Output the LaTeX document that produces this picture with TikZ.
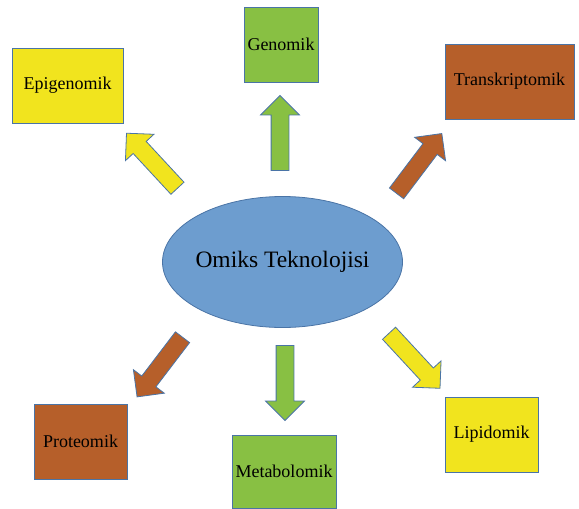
\documentclass[tikz,border=0pt]{standalone}
\usepackage{fontspec}
\setmainfont{Liberation Serif}
\usetikzlibrary{shapes.geometric,shapes.arrows}
\definecolor{OmYellow}{HTML}{F1E41E}
\definecolor{OmGreen}{HTML}{88C043}
\definecolor{OmBrown}{HTML}{B65F2A}
\definecolor{OmBlue}{HTML}{6D9DCF}
\definecolor{OmLine}{HTML}{4A74A6}

\begin{document}
\begin{tikzpicture}[x=1pt,y=-1pt]
  \tikzstyle{omik}=[draw=OmLine,line width=0.8pt,inner sep=0pt,
    minimum height=75pt,font=\fontsize{18}{21}\selectfont]
  \tikzstyle{blok}=[single arrow,draw=OmLine,line width=0.8pt,inner sep=8.5pt,
    minimum height=75pt,single arrow head extend=10.5pt]
  \useasboundingbox (0,0) rectangle (579,509);
  % centre
  \node[ellipse,draw=OmLine,line width=0.8pt,fill=OmBlue,inner sep=0pt,minimum width=240pt,
    minimum height=131pt,font=\fontsize{23.5}{28}\selectfont] (omx) at (282.5,262)
    {\makebox[0pt]{Omiks Teknolojisi}};
  % boxes
  \node[omik,fill=OmGreen,minimum width=74pt] (gen) at (281,44.5) {Genomik};
  \node[omik,fill=OmYellow,minimum width=111pt] (epi) at (67.5,85.5) {Epigenomik};
  \node[omik,fill=OmBrown,minimum width=129pt] (trn) at (509.5,81.5) {Transkriptomik};
  \node[omik,fill=OmBrown,minimum width=93pt] (pro) at (80.5,441.5) {Proteomik};
  \node[omik,fill=OmGreen,minimum width=104pt,minimum height=73pt] (met) at (284,471.5) {Metabolomik};
  \node[omik,fill=OmYellow,minimum width=93pt] (lip) at (491.5,434.5) {Lipidomik};
  % block arrows
  \node[blok,fill=OmGreen,rotate=90] (agen) at (280,137.5) {};
  \node[blok,fill=OmYellow,rotate=132.8] (aepi) at (155,164) {};
  \node[blok,fill=OmBrown,rotate=52.9] (atrn) at (416.5,167) {};
  \node[blok,fill=OmBrown,rotate=232.7] (apro) at (162.5,363.5) {};
  \node[blok,fill=OmGreen,rotate=270] (amet) at (285,378.5) {};
  \node[blok,fill=OmYellow,rotate=-47.2] (alip) at (411.5,357.5) {};
\end{tikzpicture}
\end{document}
